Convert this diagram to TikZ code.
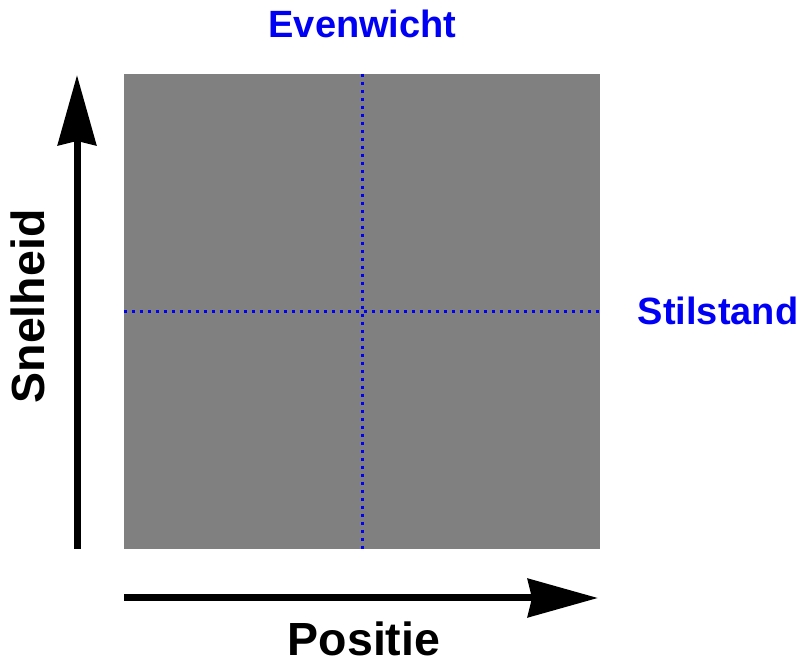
\documentclass[tikz,border=0pt]{standalone}
\usepackage{fontspec}
\setmainfont{Liberation Sans}
\usepackage{tikz}
\usetikzlibrary{arrows.meta,positioning}
\definecolor{field}{RGB}{128, 128, 128}
\definecolor{mark}{RGB}{0, 0, 245}
\tikzstyle{plane} = [rectangle, fill=field, draw=none, inner sep=0pt, minimum width=476pt, minimum height=475pt]
\tikzstyle{rest} = [draw=mark, line width=3pt, dash pattern=on 3pt off 5pt]
\tikzstyle{axis} = [draw, line width=7pt, -{Stealth[length=70pt, width=38pt, inset=4pt]}]
\tikzstyle{marklabel} = [text=mark, font=\bfseries\fontsize{38}{40}\selectfont, inner sep=0pt, anchor=base]
\tikzstyle{axislabel} = [text=black, font=\bfseries\fontsize{46.5}{48}\selectfont, inner sep=0pt, anchor=base]

\begin{document}
\begin{tikzpicture}[x=1pt, y=1pt]
\useasboundingbox (0,0) rectangle (801,663);

% phase plane =============================
\node[plane] (pp) at (362,351.5) {};
\path[rest] (pp.north) -- (pp.south);
\path[rest] (pp.west) -- (pp.east);

% axes
\coordinate (vfrom) at (77,114);
\coordinate (vto) at (77,588);
\coordinate (hfrom) at (124,65);
\coordinate (hto) at (598,65);
\path[axis] (vfrom) -- (vto);
\path[axis] (hfrom) -- (hto);

% labels
\node[marklabel] (eq) at (362.5,625) {Evenwicht};
\node[marklabel] (st) at (718,338) {Stilstand};
\node[axislabel] (pos) at (364,7) {Positie};
\node[axislabel, rotate=90] (vel) at (45,356.5) {Snelheid};

\end{tikzpicture}
\end{document}
